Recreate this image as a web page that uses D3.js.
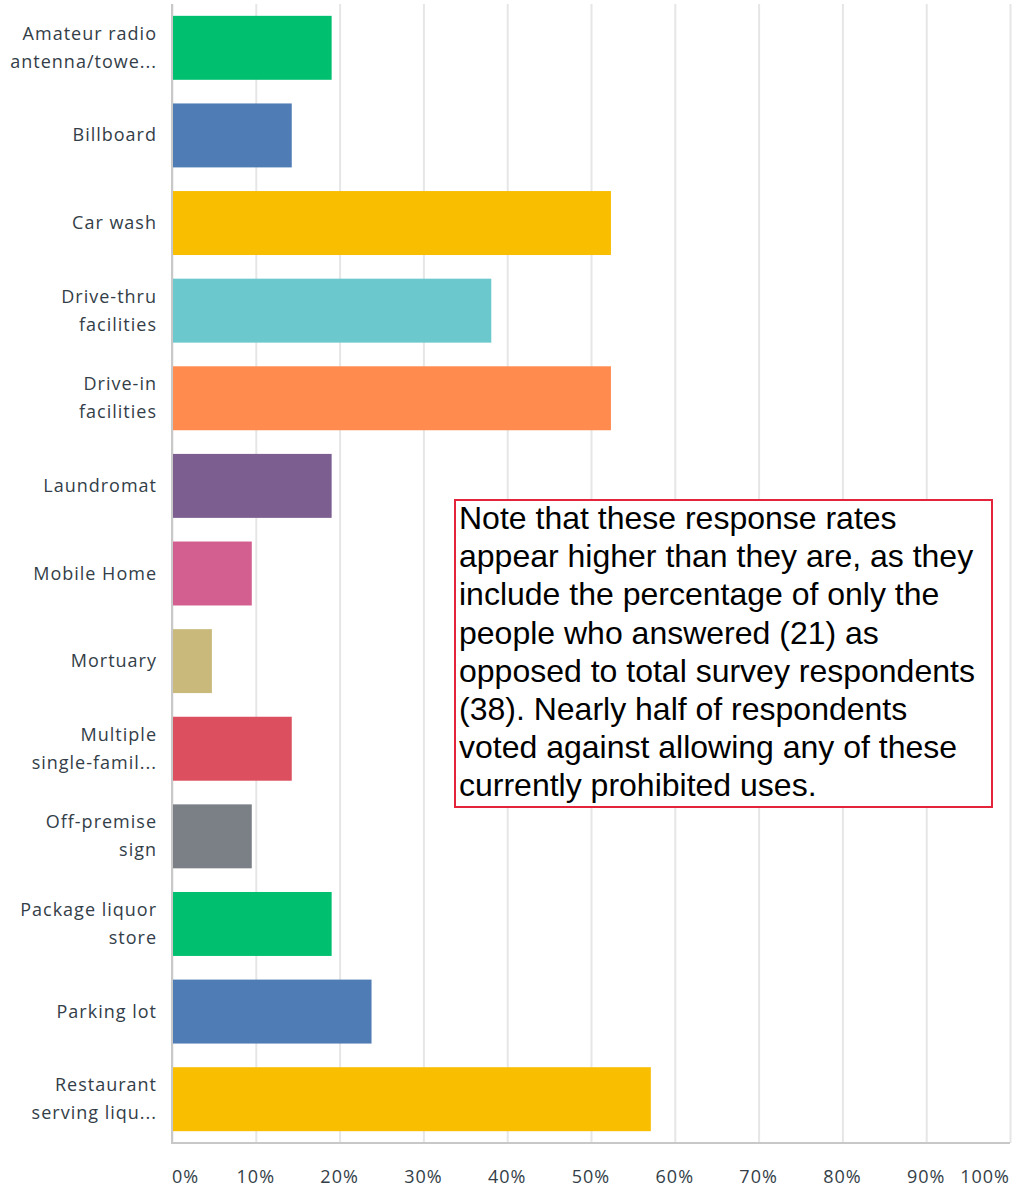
<!DOCTYPE html>
<html>
<head>
<meta charset="utf-8">
<script src="https://cdn.jsdelivr.net/npm/d3@7"></script>
<style>
  body { margin: 0; background: #fff; }
  .grid line { stroke: #e6e6e6; stroke-width: 2; }
  .grid path { display: none; }
</style>
</head>
<body>
<svg id="container" width="1015" height="1190"></svg>
<script>
const categories = [
    ["Amateur radio", "antenna/towe..."],
    ["Billboard"],
    ["Car wash"],
    ["Drive-thru", "facilities"],
    ["Drive-in", "facilities"],
    ["Laundromat"],
    ["Mobile Home"],
    ["Mortuary"],
    ["Multiple", "single-famil..."],
    ["Off-premise", "sign"],
    ["Package liquor", "store"],
    ["Parking lot"],
    ["Restaurant", "serving liqu..."]
];
const values = [19.05, 14.29, 52.38, 38.10, 52.38, 19.05, 9.52, 4.76, 14.29, 9.52, 19.05, 23.81, 57.14];
const colors = ["#00bf6f", "#507cb6", "#f9be00", "#6bc8cd", "#ff8b4f", "#7d5e90", "#d25f90",
    "#c9b97b", "#dc4f5e", "#7a8086", "#00bf6f", "#507cb6", "#f9be00"];
const ticks = [0, 10, 20, 30, 40, 50, 60, 70, 80, 90, 100];
const noteLines = [
    "Note that these response rates",
    "appear higher than they are, as they",
    "include the percentage of only the",
    "people who answered (21) as",
    "opposed to total survey respondents",
    "(38). Nearly half of respondents",
    "voted against allowing any of these",
    "currently prohibited uses."
];

const svg = d3.select('#container');
const plotLeft = 172, plotRight = 1010, plotTop = 4, plotBottom = 1143;

const xScale = d3.scaleLinear().domain([0, 100]).range([plotLeft, plotRight]);
const yScale = d3.scaleBand().domain(d3.range(categories.length)).range([plotTop, plotBottom]).paddingInner(0.27).paddingOuter(0.135);

// gridlines
svg.append('g')
    .attr('class', 'grid')
    .attr('transform', 'translate(0,' + plotBottom + ')')
    .call(d3.axisBottom(xScale).tickValues(ticks).tickSize(-(plotBottom - 4)).tickFormat(''));

// bars
svg.selectAll('rect.bar')
    .data(values)
    .enter().append('rect')
    .attr('class', 'bar')
    .attr('x', xScale(0))
    .attr('y', (d, i) => yScale(i))
    .attr('width', d => xScale(d) - xScale(0))
    .attr('height', yScale.bandwidth())
    .attr('fill', (d, i) => colors[i]);

// axis lines
svg.append('line').attr('x1', plotLeft).attr('x2', plotLeft).attr('y1', 4).attr('y2', plotBottom + 1)
    .attr('stroke', '#c8c8c8').attr('stroke-width', 2);
svg.append('line').attr('x1', plotLeft).attr('x2', plotRight).attr('y1', plotBottom).attr('y2', plotBottom)
    .attr('stroke', '#c8c8c8').attr('stroke-width', 2);

// category labels
const labelFont = "'Open Sans', 'Noto Sans', sans-serif";
categories.forEach((lines, i) => {
    const cy = yScale(i) + yScale.bandwidth() / 2;
    const lh = 28;
    const startY = cy - (lines.length - 1) * lh / 2 + 6;
    const t = svg.append('text')
        .attr('text-anchor', 'end')
        .attr('font-family', labelFont)
        .attr('font-size', 18)
        .attr('fill', '#333e48')
        .attr('letter-spacing', 1);
    lines.forEach((l, j) => {
        t.append('tspan').attr('x', 157).attr('y', startY + j * lh).text(l);
    });
});

// tick labels
svg.selectAll('text.tick')
    .data(ticks)
    .enter().append('text')
    .attr('class', 'tick')
    .attr('x', d => xScale(d))
    .attr('y', 1183)
    .attr('text-anchor', d => d === 0 ? 'start' : d === 100 ? 'end' : 'middle')
    .attr('font-family', labelFont)
    .attr('font-size', 18)
    .attr('letter-spacing', 1)
    .attr('fill', '#333e48')
    .text(d => d + '%');

// note box
svg.append('rect')
    .attr('x', 455).attr('y', 500).attr('width', 537).attr('height', 307)
    .attr('fill', '#fff').attr('stroke', '#e3243b').attr('stroke-width', 2);
const note = svg.append('text')
    .attr('font-family', "'Liberation Sans', Arial, sans-serif")
    .attr('font-size', 32)
    .attr('fill', '#000');
noteLines.forEach((l, j) => {
    note.append('tspan').attr('x', 459).attr('y', 529 + j * 38.2).text(l);
});
</script>
</body>
</html>
